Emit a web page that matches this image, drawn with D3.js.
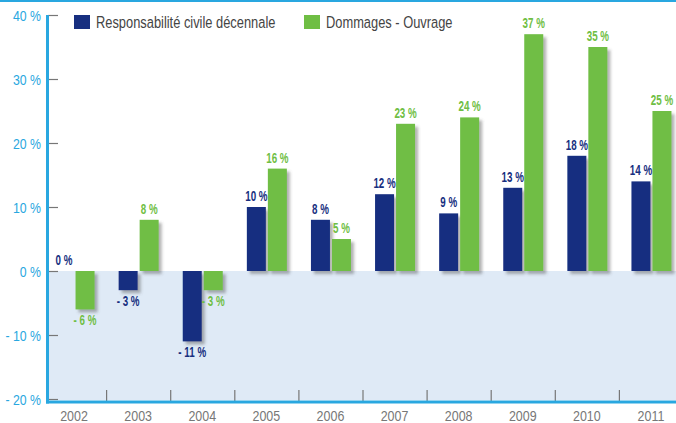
<!DOCTYPE html>
<html>
<head>
<meta charset="utf-8">
<script src="https://cdn.jsdelivr.net/npm/d3@7"></script>
<style>
  html, body { margin: 0; padding: 0; background: #fff; }
  svg { display: block; }
  text { font-family: "Liberation Sans", Arial, sans-serif; }
</style>
</head>
<body>
<svg id="chart" width="676" height="423"></svg>
<script>
// Annual change per year, in percent
const years = ["2002", "2003", "2004", "2005", "2006", "2007", "2008", "2009", "2010", "2011"];
const rcd = [0, -3, -11, 10, 8, 12, 9, 13, 18, 14];        // Responsabilité civile décennale
const dommages = [-6, 8, -3, 16, 5, 23, 24, 37, 35, 25];   // Dommages - Ouvrage
const seriesNames = ["Responsabilité civile décennale", "Dommages - Ouvrage"];
const yTicks = [40, 30, 20, 10, 0, -10, -20];

const colors = { rcd: "#172f80", dom: "#6fbe44", axis: "#29a7e0", tick: "#777", neg: "#dfeaf6" };

const svg = d3.select("#chart");
const W = 676, H = 423;

const x = d3.scaleBand().domain(years).range([42, 683]).padding(0);
const y = d3.scaleLinear().domain([-20, 40]).range([399, 15]);

// condensed text: horizontally squeezed glyphs
function ctext(g, tx, ty, sx) {
  return g.attr("transform", (d, i) => `translate(${tx(d, i)},${ty(d, i)}) scale(${sx},1)`);
}

// drop shadow for bars
const defs = svg.append("defs");
const f = defs.append("filter").attr("id", "shadow").attr("x", "-30%").attr("y", "-30%").attr("width", "160%").attr("height", "160%");
f.append("feDropShadow").attr("dx", 3).attr("dy", 3).attr("stdDeviation", 1.4)
  .attr("flood-color", "#555").attr("flood-opacity", 0.45);

// top border
svg.append("rect").attr("x", 0).attr("y", 0).attr("width", W).attr("height", 2).attr("fill", colors.axis);

// negative zone background
svg.append("rect").attr("x", 49).attr("y", y(0)).attr("width", W - 49).attr("height", y(-20) - y(0) + 1)
  .attr("fill", colors.neg);

// bars
const barW = 19, gap = 2;
const data = years.map((yr, i) => ({ yr, rcd: rcd[i], dom: dommages[i] }));
const cx = d => x(d.yr) + x.bandwidth() / 2;

const bars = svg.append("g").attr("filter", "url(#shadow)");
bars.selectAll("rect.rcd").data(data).join("rect").attr("class", "rcd")
  .attr("x", d => cx(d) - barW - gap / 2 + 0.5)
  .attr("width", barW)
  .attr("y", d => y(Math.max(0, d.rcd)))
  .attr("height", d => Math.abs(y(d.rcd) - y(0)))
  .attr("fill", colors.rcd);
bars.selectAll("rect.dom").data(data).join("rect").attr("class", "dom")
  .attr("x", d => cx(d) + gap / 2 + 0.5)
  .attr("width", barW)
  .attr("y", d => y(Math.max(0, d.dom)))
  .attr("height", d => Math.abs(y(d.dom) - y(0)))
  .attr("fill", colors.dom);

// value labels
const fmt = v => (v < 0 ? "- " + Math.abs(v) : v) + " %";
const labels = svg.append("g").attr("font-weight", "bold").attr("font-size", 14).attr("text-anchor", "middle");
ctext(labels.selectAll("text.rcd").data(data).join("text").attr("class", "rcd"),
  d => cx(d) - barW / 2 - gap / 2 + 0.5,
  d => d.rcd >= 0 ? y(d.rcd) - 6 : y(d.rcd) + 16, 0.7)
  .attr("fill", colors.rcd)
  .text(d => fmt(d.rcd));
ctext(labels.selectAll("text.dom").data(data).join("text").attr("class", "dom"),
  d => cx(d) + barW / 2 + gap / 2 + 0.5,
  d => d.dom >= 0 ? y(d.dom) - 6 : y(d.dom) + 16, 0.7)
  .attr("fill", colors.dom)
  .text(d => fmt(d.dom));

// y axis
const yAxis = svg.append("g");
yAxis.selectAll("line").data(yTicks).join("line")
  .attr("x1", 48).attr("x2", 58)
  .attr("y1", d => y(d) + 0.5).attr("y2", d => y(d) + 0.5)
  .attr("stroke", colors.tick).attr("stroke-width", 1.2);
ctext(yAxis.selectAll("text").data(yTicks).join("text"), () => 41, d => y(d) + 5.5, 0.82)
  .attr("text-anchor", "end").attr("font-size", 15).attr("fill", colors.axis)
  .text(d => (d < 0 ? "- " + Math.abs(d) : d) + " %");
svg.append("line").attr("x1", 47.5).attr("x2", 47.5).attr("y1", 15).attr("y2", 403.5)
  .attr("stroke", colors.axis).attr("stroke-width", 3);

// x axis
svg.append("g").selectAll("line").data(years.slice(1)).join("line")
  .attr("x1", d => x(d) + 0.5).attr("x2", d => x(d) + 0.5)
  .attr("y1", 390).attr("y2", 401)
  .attr("stroke", colors.tick).attr("stroke-width", 1.2);
svg.append("line").attr("x1", 46).attr("x2", W).attr("y1", 402).attr("y2", 402)
  .attr("stroke", colors.axis).attr("stroke-width", 3);
ctext(svg.append("g").selectAll("text").data(years).join("text"),
  d => x(d) + x.bandwidth() / 2, () => 420.5, 0.86)
  .attr("text-anchor", "middle").attr("font-size", 14.5).attr("fill", "#777")
  .text(d => d);

// legend
const legend = svg.append("g");
const legendItems = [
  { name: seriesNames[0], color: colors.rcd, x: 74 },
  { name: seriesNames[1], color: colors.dom, x: 304 }
];
legendItems.forEach(it => {
  legend.append("rect").attr("x", it.x).attr("y", 15).attr("width", 16).attr("height", 14).attr("fill", it.color);
  legend.append("text").attr("transform", `translate(${it.x + 22},27.5) scale(0.78,1)`)
    .attr("font-size", 16.5).attr("fill", "#444").text(it.name);
});
</script>
</body>
</html>
